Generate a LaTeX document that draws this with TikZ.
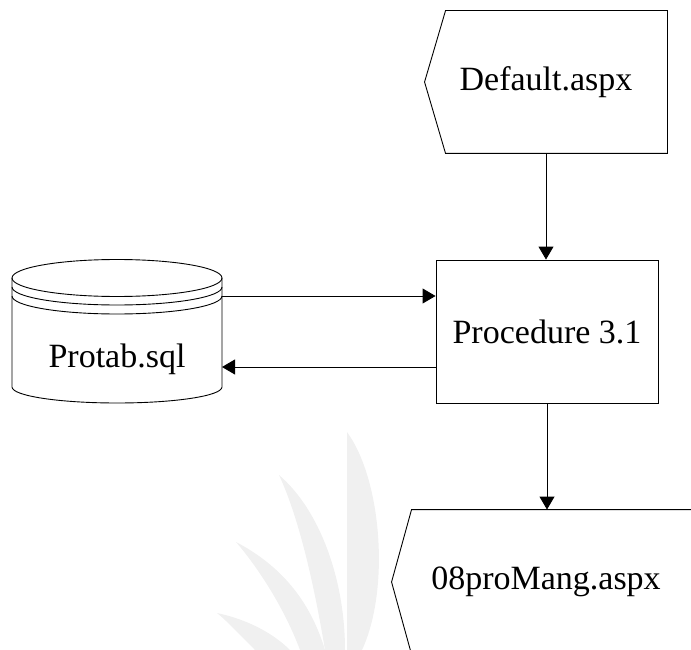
\documentclass[tikz,border=0pt]{standalone}
\usepackage{fontspec}
\setmainfont{Liberation Serif}
\usetikzlibrary{arrows.meta}

\begin{document}
\begin{tikzpicture}[x=1pt, y=1pt, line width=0.9pt,
          page/.style={minimum width=242pt, minimum height=142pt, inner sep=0pt, font=\fontsize{34}{40}\selectfont},
          procbox/.style={draw, minimum width=222pt, minimum height=143pt, inner sep=0pt, font=\fontsize{34}{40}\selectfont},
          dbtext/.style={inner sep=0pt, font=\fontsize{34}{40}\selectfont},
          flow/.style={-{Triangle[length=13pt, width=15pt]}},
          leaf/.style={fill=black!6, draw=none}
        ]
          \useasboundingbox (0,0) rectangle (691,-650);
          \clip (0,0) rectangle (691,-650);

          % faint watermark
          \fill[leaf] (347,-432) .. controls (382,-480) and (390,-590) .. (362,-650) -- (347,-650) -- cycle;
          \fill[leaf] (279,-475) .. controls (320,-510) and (345,-580) .. (345,-650) -- (325,-650) .. controls (315,-590) and (300,-520) .. cycle;
          \fill[leaf] (236,-542) .. controls (280,-565) and (310,-600) .. (325,-650) -- (300,-650) .. controls (285,-610) and (260,-570) .. cycle;
          \fill[leaf] (217,-613) .. controls (250,-620) and (275,-635) .. (290,-650) -- (255,-650) .. controls (240,-635) and (228,-622) .. cycle;

          \node[page] (default) at (546,-82) {Default.aspx};
          \draw ([xshift=21pt]default.north west) -- (default.north east) -- (default.south east)
            -- ([xshift=21pt]default.south west) -- (default.west) -- cycle;

          \node[procbox] (proc) at (547,-331.5) {Procedure 3.1};

          \node[page, minimum width=308pt, minimum height=144pt] (mang) at (546,-582) {08proMang.aspx};
          \draw ([xshift=20pt]mang.north west) -- (mang.north east) -- (mang.south east)
            -- ([xshift=20pt]mang.south west) -- (mang.west) -- cycle;

          % database
          \draw (117,-278) ellipse [x radius=105, y radius=18.5];
          \draw (12,-287) arc [start angle=180, end angle=360, x radius=105, y radius=18];
          \draw (12,-296) arc [start angle=180, end angle=360, x radius=105, y radius=18];
          \draw (12,-278) -- (12,-387) arc [start angle=180, end angle=360, x radius=105, y radius=16] -- (222,-278);
          \node[dbtext] (protab) at (117,-359) {Protab.sql};
          \coordinate (dbout) at (222,-296);
          \coordinate (dbin) at (222,-367);

          \draw[flow] (default.south) -- (default.south |- proc.north);
          \draw[flow] (dbout) -- (dbout -| proc.west);
          \draw[flow] (dbin -| proc.west) -- (dbin);
          \draw[flow] (proc.south) -- (proc.south |- mang.north);
        \end{tikzpicture}
\end{document}
